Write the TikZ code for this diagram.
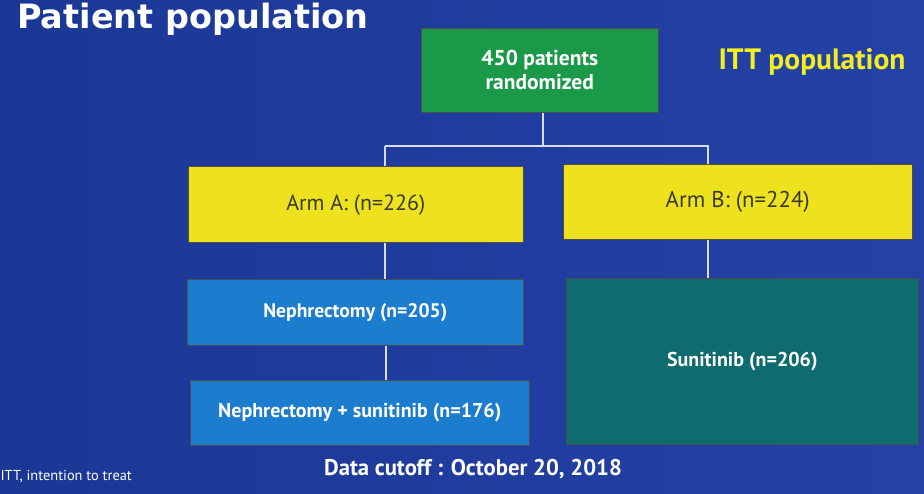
\documentclass[tikz,border=0pt]{standalone}
\usepackage{fontspec}
\setmainfont{PT Sans}
\newfontfamily\titlefont{DejaVu Sans}
\definecolor{bgL}{HTML}{1B3796}
\definecolor{bgR}{HTML}{2442A6}
\definecolor{grn}{HTML}{1A9A48}
\definecolor{ylw}{HTML}{EEE21E}
\definecolor{blu}{HTML}{1C7DCF}
\definecolor{teal2}{HTML}{0E6B6E}
\definecolor{itty}{HTML}{F2EE22}
\definecolor{armtxt}{HTML}{3A3A28}
\definecolor{wire}{HTML}{D8DCE8}
\tikzset{
  boxst/.style={draw=black!70, line width=0.6pt, inner sep=0pt, anchor=north west},
  wlabel/.style={text=white, font=\bfseries},
  conn/.style={draw=wire, line width=2pt},
}
\begin{document}
\begin{tikzpicture}[x=1pt,y=-1pt]
\useasboundingbox (0,0) rectangle (924,493);
\shade[left color=bgL, right color=bgR] (0,0) rectangle (924,493);
% title
\node[anchor=base west, inner sep=0pt, text=white, font=\titlefont\bfseries\fontsize{33.5}{38}\selectfont] (title) at (17,28) {Patient population};
\node[anchor=center, text=itty, font=\bfseries\fontsize{29.5}{34}\selectfont] (itt) at (812,62) {ITT population};
% boxes
\node[boxst, fill=grn, minimum width=237pt, minimum height=84pt] (root) at (421,28) {};
\node[wlabel, align=center, font=\bfseries\fontsize{21.5}{24}\selectfont] at (root.center) {450 patients\\randomized};
\node[boxst, fill=ylw, minimum width=335pt, minimum height=76pt] (armA) at (188,166) {};
\node[text=armtxt, font=\fontsize{22}{24}\selectfont] at ([yshift=-1pt]armA.center) {Arm A: (n=226)};
\node[boxst, fill=ylw, minimum width=349pt, minimum height=75pt] (armB) at (563,164) {};
\node[text=armtxt, font=\fontsize{22.8}{24}\selectfont] at (armB.center) {Arm B: (n=224)};
\node[boxst, fill=blu, minimum width=336pt, minimum height=66pt] (neph) at (187,279) {};
\node[wlabel, font=\bfseries\fontsize{19.6}{22}\selectfont] at (neph.center) {Nephrectomy (n=205)};
\node[boxst, fill=blu, minimum width=339pt, minimum height=65pt] (nephs) at (190,380) {};
\node[wlabel, font=\bfseries\fontsize{20}{22}\selectfont] at (nephs.center) {Nephrectomy + sunitinib (n=176)};
\node[boxst, fill=teal2, minimum width=352pt, minimum height=166pt] (suni) at (566,278) {};
\node[wlabel, font=\bfseries\fontsize{20}{22}\selectfont] at (suni.center) {Sunitinib (n=206)};
% footer
\node[anchor=west, text=white, font=\fontsize{14.4}{16}\selectfont] (foot) at (-3,476) {ITT, intention to treat};
\node[text=white, font=\bfseries\fontsize{22.7}{26}\selectfont] (cut) at (473,469) {Data cutoff : October 20, 2018};
% connectors
\coordinate (split) at (543,146);
\draw[conn] (root.south -| split) -- (split);
\draw[conn] (385,146) -| (armA.north -| 385,0);
\draw[conn] (385,146) -- (708,146) -- (armB.north -| 708,0);
\draw[conn] (armA.south -| 385,0) -- (neph.north -| 385,0);
\draw[conn] (neph.south -| 386,0) -- (nephs.north -| 386,0);
\draw[conn] (armB.south -| 708,0) -- (suni.north -| 708,0);
\end{tikzpicture}
\end{document}
